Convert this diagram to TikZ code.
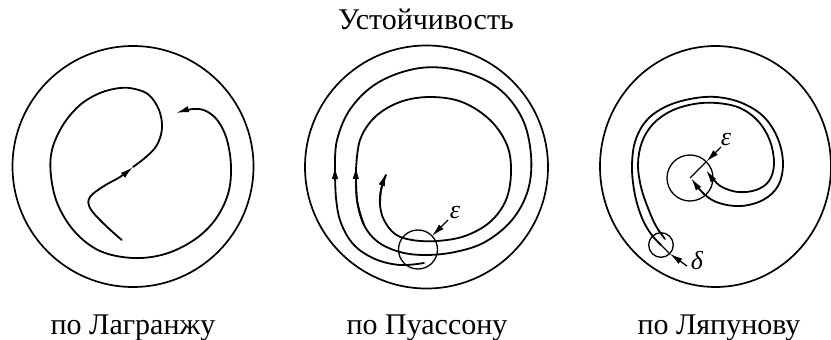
\documentclass[tikz,border=0pt]{standalone}
\usepackage{fontspec}
\setmainfont{Liberation Serif}
\usetikzlibrary{arrows.meta}
\tikzset{
  traj/.style={line width=1.8pt, line cap=round, line join=round},
  ring/.style={line width=1.7pt},
  thin/.style={line width=1.3pt},
  tipped/.style={-{Latex[length=13pt,width=6.5pt]}},
  lab/.style={font=\fontsize{30}{36}\selectfont, anchor=base, inner sep=0pt},
  greek/.style={font=\fontsize{26}{30}\selectfont\itshape, inner sep=0pt},
}
\begin{document}
\begin{tikzpicture}[x=1pt,y=-1pt]
\useasboundingbox (0,0) rectangle (831,340);

% title and labels
\node[lab] (title) at (426,30) {Устойчивость};
\node[lab] (l1) at (133,334) {по Лагранжу};
\node[lab] (l2) at (427,334) {по Пуассону};
\node[lab] (l3) at (719,334) {по Ляпунову};

% outer circles
\draw[ring] (133,166.5) circle[radius=120.5];
\draw[ring] (426.5,167) circle[radius=121.5];
\draw[ring] (715.5,166.5) ellipse[x radius=115.5, y radius=120.5];

% ---- Lagrange
\draw[traj,tipped] plot[smooth,tension=0.6] coordinates {
  (121.7,240) (103,223) (90,208) (90,197) (104,186) (120,177) (133,167)};
\draw[traj,tipped] plot[smooth,tension=0.6] coordinates {
  (133,167) (146,157) (157,145) (162,128) (159,110) (149,95) (135,89) (120,88)
  (100,93) (80,105) (63,125) (52,150) (51,176) (58,205) (75,232) (100,251)
  (133,258) (165,254) (194,240) (215,220) (228,194) (231,167) (227,140)
  (218,121) (206,111) (193,109) (176,113)};

% ---- Poisson
\draw[thin] (418,249.5) circle[radius=19.5];
\draw[traj,tipped] plot[smooth,tension=0.6] coordinates {
  (424,263) (400,265) (375,259) (354,245) (341,223) (336,198) (335,166)};
\draw[traj] plot[smooth,tension=0.6] coordinates {
  (335,170) (337,140) (351,108) (379,82) (420,68) (461,71) (498,88) (522,118)
  (531,155) (528,190) (512,220) (485,242) (455,252) (425,255) (400,252)
  (378,242) (364,225) (357,200) (356,170)};
\draw[traj,tipped] plot[smooth,tension=0.6] coordinates {
  (364,225) (357,200) (356,166)};
\draw[traj] plot[smooth,tension=0.6] coordinates {
  (356,170) (360,140) (375,117) (400,102) (430,97) (462,102) (490,120)
  (507,145) (511,172) (506,200) (490,222) (465,236) (437,241) (412,240)
  (395,234) (384,220) (380,205) (381,190) (386,175)};
\draw[traj,tipped] plot[smooth,tension=0.6] coordinates {
  (380,205) (381,190) (386,173)};
\coordinate (pe) at (432,236);
\draw[thin,tipped] (448,220) -- (pe);
\node[greek] (peps) at (455,212) {ε};

% ---- Lyapunov
\draw[thin] (661,245) circle[radius=12.3];
\draw[thin] (690,178) circle[radius=23];
\draw[traj,tipped] plot[smooth,tension=0.6] coordinates {
  (661,245) (651,234) (642,218) (635,195) (632,168) (635,142) (646,121)
  (665,107) (690,99) (716,97) (742,103) (764,117) (778,139) (783,164)
  (778,186) (763,200) (741,206) (719,203) (704,194) (691,178)};
\draw[traj,tipped] plot[smooth,tension=0.6] coordinates {
  (665,239) (656,226) (648,208) (641,187) (638,164) (642,142) (653,124)
  (671,111) (694,104) (717,103) (740,108) (758,121) (770,141) (774,164)
  (769,181) (756,190) (738,192) (722,187) (713,179) (706,170)};
\coordinate (ec) at (690,178);
\coordinate (ee) at (706.3,161.7);
\draw[thin] (ec) -- (ee);
\draw[thin,tipped] (721,147) -- (ee);
\node[greek] (leps) at (726,140) {ε};
\coordinate (dc) at (661,245);
\coordinate (de) at (669.7,253.7);
\draw[thin] (dc) -- (de);
\draw[thin,tipped] (687,266) -- (de);
\node[greek] (ldel) at (697,261) {δ};
\end{tikzpicture}
\end{document}
